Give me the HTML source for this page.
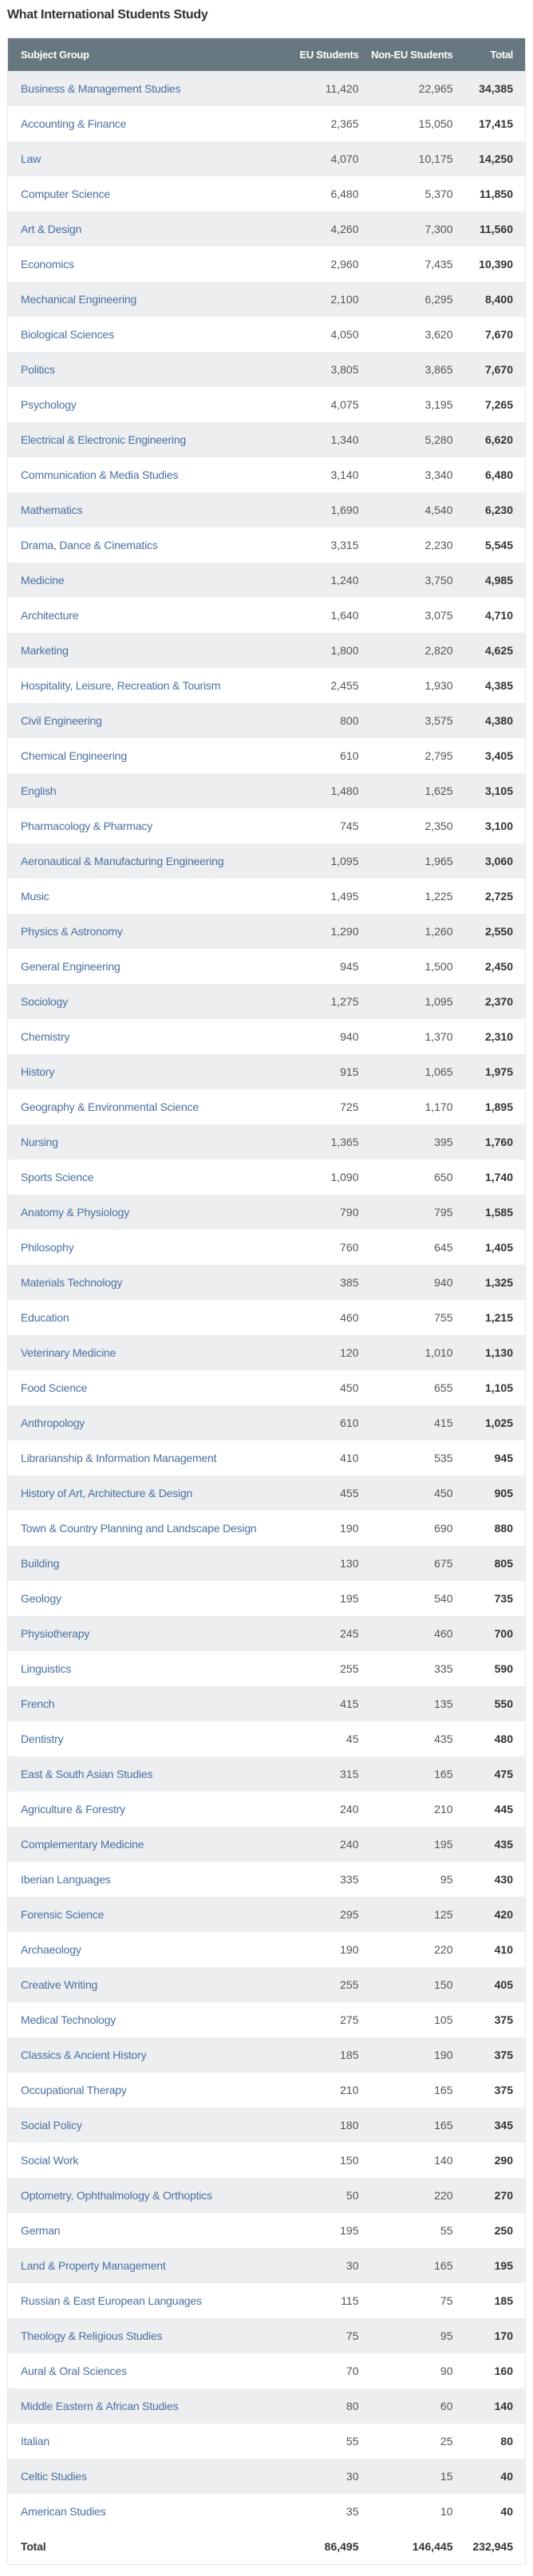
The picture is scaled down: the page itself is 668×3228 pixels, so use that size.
<!DOCTYPE html>
<html><head><meta charset="utf-8"><style>
body{margin:0;background:#fff;width:668px;height:3228px;overflow:hidden;font-family:"Liberation Sans",sans-serif}
h1{position:absolute;left:9px;top:10px;margin:0;font-size:16px;font-weight:bold;color:#333;letter-spacing:-0.3px}
table{position:absolute;left:9px;top:47px;width:649px;border-collapse:collapse;border:1px solid #e8e8e8;font-size:14px;table-layout:fixed}
th{background:#67777f;color:#fff;height:41px;font-size:13px;font-weight:bold;text-align:right;padding:0;letter-spacing:-0.3px;white-space:nowrap}
td{height:44px;padding:0;text-align:right;color:#555;white-space:nowrap;overflow:hidden}
tr:nth-child(even) td{background:#eceef0}
td:first-child,th:first-child{text-align:left;padding-left:16px}
td:first-child{color:#4a70a0;letter-spacing:-0.2px}
td:last-child{padding-right:15px;font-weight:bold;color:#333}
th:last-child{padding-right:15px;color:#fff}
tr.tot td{font-weight:bold;color:#333;background:#fff}
</style></head><body>
<h1>What International Students Study</h1>
<table>
<colgroup><col style="width:341px"><col style="width:99px"><col style="width:118px"><col style="width:91px"></colgroup>
<tr><th>Subject Group</th><th>EU Students</th><th>Non-EU Students</th><th>Total</th></tr>
<tr><td>Business &amp; Management Studies</td><td>11,420</td><td>22,965</td><td>34,385</td></tr>
<tr><td>Accounting &amp; Finance</td><td>2,365</td><td>15,050</td><td>17,415</td></tr>
<tr><td>Law</td><td>4,070</td><td>10,175</td><td>14,250</td></tr>
<tr><td>Computer Science</td><td>6,480</td><td>5,370</td><td>11,850</td></tr>
<tr><td>Art &amp; Design</td><td>4,260</td><td>7,300</td><td>11,560</td></tr>
<tr><td>Economics</td><td>2,960</td><td>7,435</td><td>10,390</td></tr>
<tr><td>Mechanical Engineering</td><td>2,100</td><td>6,295</td><td>8,400</td></tr>
<tr><td>Biological Sciences</td><td>4,050</td><td>3,620</td><td>7,670</td></tr>
<tr><td>Politics</td><td>3,805</td><td>3,865</td><td>7,670</td></tr>
<tr><td>Psychology</td><td>4,075</td><td>3,195</td><td>7,265</td></tr>
<tr><td>Electrical &amp; Electronic Engineering</td><td>1,340</td><td>5,280</td><td>6,620</td></tr>
<tr><td>Communication &amp; Media Studies</td><td>3,140</td><td>3,340</td><td>6,480</td></tr>
<tr><td>Mathematics</td><td>1,690</td><td>4,540</td><td>6,230</td></tr>
<tr><td>Drama, Dance &amp; Cinematics</td><td>3,315</td><td>2,230</td><td>5,545</td></tr>
<tr><td>Medicine</td><td>1,240</td><td>3,750</td><td>4,985</td></tr>
<tr><td>Architecture</td><td>1,640</td><td>3,075</td><td>4,710</td></tr>
<tr><td>Marketing</td><td>1,800</td><td>2,820</td><td>4,625</td></tr>
<tr><td>Hospitality, Leisure, Recreation &amp; Tourism</td><td>2,455</td><td>1,930</td><td>4,385</td></tr>
<tr><td>Civil Engineering</td><td>800</td><td>3,575</td><td>4,380</td></tr>
<tr><td>Chemical Engineering</td><td>610</td><td>2,795</td><td>3,405</td></tr>
<tr><td>English</td><td>1,480</td><td>1,625</td><td>3,105</td></tr>
<tr><td>Pharmacology &amp; Pharmacy</td><td>745</td><td>2,350</td><td>3,100</td></tr>
<tr><td>Aeronautical &amp; Manufacturing Engineering</td><td>1,095</td><td>1,965</td><td>3,060</td></tr>
<tr><td>Music</td><td>1,495</td><td>1,225</td><td>2,725</td></tr>
<tr><td>Physics &amp; Astronomy</td><td>1,290</td><td>1,260</td><td>2,550</td></tr>
<tr><td>General Engineering</td><td>945</td><td>1,500</td><td>2,450</td></tr>
<tr><td>Sociology</td><td>1,275</td><td>1,095</td><td>2,370</td></tr>
<tr><td>Chemistry</td><td>940</td><td>1,370</td><td>2,310</td></tr>
<tr><td>History</td><td>915</td><td>1,065</td><td>1,975</td></tr>
<tr><td>Geography &amp; Environmental Science</td><td>725</td><td>1,170</td><td>1,895</td></tr>
<tr><td>Nursing</td><td>1,365</td><td>395</td><td>1,760</td></tr>
<tr><td>Sports Science</td><td>1,090</td><td>650</td><td>1,740</td></tr>
<tr><td>Anatomy &amp; Physiology</td><td>790</td><td>795</td><td>1,585</td></tr>
<tr><td>Philosophy</td><td>760</td><td>645</td><td>1,405</td></tr>
<tr><td>Materials Technology</td><td>385</td><td>940</td><td>1,325</td></tr>
<tr><td>Education</td><td>460</td><td>755</td><td>1,215</td></tr>
<tr><td>Veterinary Medicine</td><td>120</td><td>1,010</td><td>1,130</td></tr>
<tr><td>Food Science</td><td>450</td><td>655</td><td>1,105</td></tr>
<tr><td>Anthropology</td><td>610</td><td>415</td><td>1,025</td></tr>
<tr><td>Librarianship &amp; Information Management</td><td>410</td><td>535</td><td>945</td></tr>
<tr><td>History of Art, Architecture &amp; Design</td><td>455</td><td>450</td><td>905</td></tr>
<tr><td>Town &amp; Country Planning and Landscape Design</td><td>190</td><td>690</td><td>880</td></tr>
<tr><td>Building</td><td>130</td><td>675</td><td>805</td></tr>
<tr><td>Geology</td><td>195</td><td>540</td><td>735</td></tr>
<tr><td>Physiotherapy</td><td>245</td><td>460</td><td>700</td></tr>
<tr><td>Linguistics</td><td>255</td><td>335</td><td>590</td></tr>
<tr><td>French</td><td>415</td><td>135</td><td>550</td></tr>
<tr><td>Dentistry</td><td>45</td><td>435</td><td>480</td></tr>
<tr><td>East &amp; South Asian Studies</td><td>315</td><td>165</td><td>475</td></tr>
<tr><td>Agriculture &amp; Forestry</td><td>240</td><td>210</td><td>445</td></tr>
<tr><td>Complementary Medicine</td><td>240</td><td>195</td><td>435</td></tr>
<tr><td>Iberian Languages</td><td>335</td><td>95</td><td>430</td></tr>
<tr><td>Forensic Science</td><td>295</td><td>125</td><td>420</td></tr>
<tr><td>Archaeology</td><td>190</td><td>220</td><td>410</td></tr>
<tr><td>Creative Writing</td><td>255</td><td>150</td><td>405</td></tr>
<tr><td>Medical Technology</td><td>275</td><td>105</td><td>375</td></tr>
<tr><td>Classics &amp; Ancient History</td><td>185</td><td>190</td><td>375</td></tr>
<tr><td>Occupational Therapy</td><td>210</td><td>165</td><td>375</td></tr>
<tr><td>Social Policy</td><td>180</td><td>165</td><td>345</td></tr>
<tr><td>Social Work</td><td>150</td><td>140</td><td>290</td></tr>
<tr><td>Optometry, Ophthalmology &amp; Orthoptics</td><td>50</td><td>220</td><td>270</td></tr>
<tr><td>German</td><td>195</td><td>55</td><td>250</td></tr>
<tr><td>Land &amp; Property Management</td><td>30</td><td>165</td><td>195</td></tr>
<tr><td>Russian &amp; East European Languages</td><td>115</td><td>75</td><td>185</td></tr>
<tr><td>Theology &amp; Religious Studies</td><td>75</td><td>95</td><td>170</td></tr>
<tr><td>Aural &amp; Oral Sciences</td><td>70</td><td>90</td><td>160</td></tr>
<tr><td>Middle Eastern &amp; African Studies</td><td>80</td><td>60</td><td>140</td></tr>
<tr><td>Italian</td><td>55</td><td>25</td><td>80</td></tr>
<tr><td>Celtic Studies</td><td>30</td><td>15</td><td>40</td></tr>
<tr><td>American Studies</td><td>35</td><td>10</td><td>40</td></tr>
<tr class="tot"><td style="color:#333">Total</td><td>86,495</td><td>146,445</td><td>232,945</td></tr>
</table>
</body></html>
